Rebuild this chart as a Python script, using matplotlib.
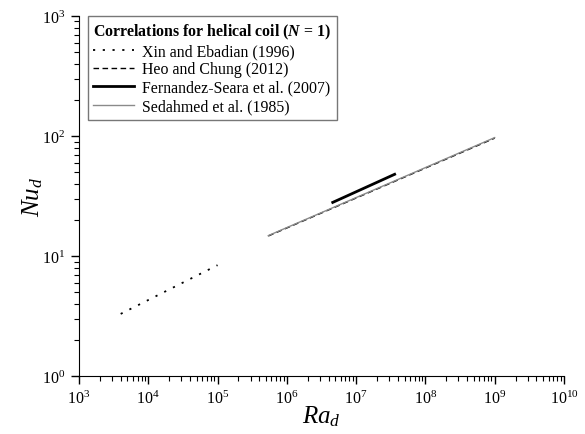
import matplotlib.pyplot as plt
from matplotlib.ticker import NullFormatter, FixedLocator

plt.rcParams['font.family'] = 'Liberation Serif'
plt.rcParams['mathtext.fontset'] = 'custom'
plt.rcParams['mathtext.rm'] = 'Liberation Serif'
plt.rcParams['mathtext.it'] = 'Liberation Serif:italic'
plt.rcParams['mathtext.bf'] = 'Liberation Serif:bold'
plt.rcParams['mathtext.bfit'] = 'Liberation Serif:italic:bold'

# correlation end points (Ra_d, Nu_d)
xin_ra = [4e3, 1e5]
xin_nu = [3.3, 8.4]

heo_ra = [5.4e5, 1e9]
heo_nu = [14.7, 96]

fs_ra = [4.6e6, 3.6e7]
fs_nu = [28, 48]

sed_ra = [5.4e5, 1e9]
sed_nu = [14.8, 97]

x_exps = [3, 4, 5, 6, 7, 8, 9, 10]
y_exps = [0, 1, 2, 3]

fig = plt.figure(figsize=(5.85, 4.35), dpi=100)
ax = fig.add_axes([0.135, 0.133, 0.829, 0.828])

ax.plot(xin_ra, xin_nu, color='black', lw=1.3, dashes=(1.2, 4.2),
        label='Xin and Ebadian (1996)')
ax.plot(heo_ra, heo_nu, color='black', lw=1.0, dashes=(4, 2.5),
        label='Heo and Chung (2012)')
ax.plot(fs_ra, fs_nu, color='black', lw=2.0,
        label='Fernandez-Seara et al. (2007)')
ax.plot(sed_ra, sed_nu, color='#8a8a8a', lw=1.0,
        label='Sedahmed et al. (1985)')

ax.set_xscale('log')
ax.set_yscale('log')
ax.set_xlim(1e3, 1e10)
ax.set_ylim(1e0, 1e3)

ax.set_xticks([10.0 ** e for e in x_exps])
ax.set_xticklabels(['$10^{%d}$' % e for e in x_exps])
ax.set_yticks([10.0 ** e for e in y_exps])
ax.set_yticklabels(['$10^{%d}$' % e for e in y_exps])
ax.xaxis.set_minor_locator(FixedLocator(
    [m * 10.0 ** e for e in x_exps[:-1] for m in range(2, 10)]))
ax.yaxis.set_minor_locator(FixedLocator(
    [m * 10.0 ** e for e in y_exps[:-1] for m in range(2, 10)]))
ax.xaxis.set_minor_formatter(NullFormatter())
ax.yaxis.set_minor_formatter(NullFormatter())

ax.spines['top'].set_visible(False)
ax.spines['right'].set_visible(False)
ax.tick_params(which='major', direction='out', length=6, width=1, labelsize=11.5, pad=4)
ax.tick_params(which='minor', direction='out', length=3.5, width=0.8)

ax.set_xlabel('$Ra_d$', fontsize=18, labelpad=-3)
ax.set_ylabel('$Nu_d$', fontsize=18, labelpad=-2)

leg = ax.legend(loc='upper left', bbox_to_anchor=(0.018, 1.0),
                title=r'Correlations for helical coil ($\mathbfit{N}$ = 1)',
                fontsize=11.4, fancybox=False, edgecolor='#777777',
                framealpha=1, handlelength=2.6, labelspacing=0.15,
                borderaxespad=0.0, borderpad=0.35, handletextpad=0.5)
leg.get_title().set_fontweight('bold')
leg.get_title().set_fontsize(11.4)
leg._legend_box.align = 'left'
leg.get_frame().set_linewidth(1.0)

plt.savefig('out.png', dpi=100)
plt.close()
